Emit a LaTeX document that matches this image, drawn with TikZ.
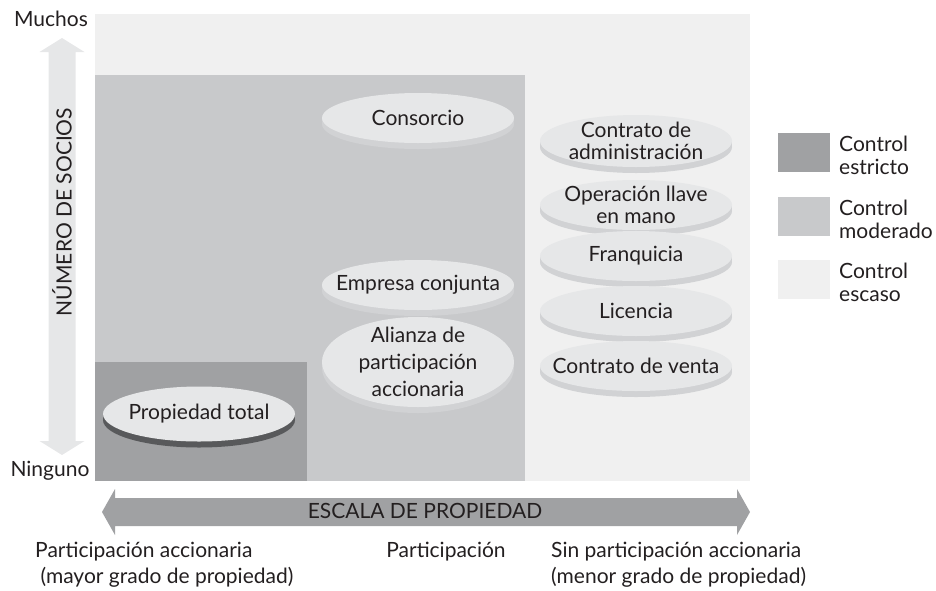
\documentclass[tikz,border=0pt]{standalone}
\usepackage{fontspec}
\setmainfont{Lato}
\usetikzlibrary{shapes.geometric}
\definecolor{darkc}{HTML}{A0A1A3}
\definecolor{midc}{HTML}{C8C9CB}
\definecolor{lightc}{HTML}{F0F0F0}
\definecolor{facec}{HTML}{E6E7E8}
\definecolor{sidec}{HTML}{D1D2D4}
\definecolor{sidedarkc}{HTML}{58595B}
\definecolor{inkc}{HTML}{231F20}
\definecolor{harrowc}{HTML}{A0A1A3}
\definecolor{varrowc}{HTML}{E6E7E8}
% \mydisc[node options]{name}{x}{y}{half height}{side colour}{text}
\newcommand{\mydisc}[7][]{%
  \fill[#6] (#3,#4+6) ellipse (96 and #5);
  \fill[#6] (#3-96,#4) rectangle (#3+96,#4+6);
  \fill[facec] (#3,#4) ellipse (96 and #5);
  \node[disctext,#1] (#2) at (#3,#4) {#7};}
\begin{document}
\begin{tikzpicture}[x=1pt,y=-1pt,
  every node/.style={text=inkc, font=\fontsize{21}{22}\selectfont},
  disctext/.style={align=center, inner sep=0pt},
  legbox/.style={minimum width=52pt, minimum height=39pt, inner sep=0pt},
  legtext/.style={anchor=west, align=left, inner sep=0pt, font=\fontsize{21}{23}\selectfont},
  lbl/.style={align=center, inner sep=0pt},
  botlbl/.style={align=left, inner sep=0pt, anchor=west, font=\fontsize{21}{26}\selectfont}]
\useasboundingbox (0,0) rectangle (936,590);
% control regions
\fill[lightc] (95,14) rectangle (750,481);
\fill[midc] (95,75) rectangle (525,481);
\fill[darkc] (95,362) rectangle (307,481);
% vertical arrow
\fill[varrowc] (62,38) -- (84.5,52) -- (75.5,52) -- (75.5,441) -- (84.5,441)
  -- (62,455) -- (39.5,441) -- (48.5,441) -- (48.5,52) -- (39.5,52) -- cycle;
\node[lbl, rotate=90] (socios) at (62,212) {NÚMERO DE SOCIOS};
\node[lbl] (muchos) at (51,19) {Muchos};
\node[lbl] (ninguno) at (50,471) {Ninguno};
% horizontal arrow
\fill[harrowc] (102,512) -- (115,489) -- (115,498) -- (737,498) -- (737,489)
  -- (750,512) -- (737,535) -- (737,526) -- (115,526) -- (115,535) -- cycle;
\node[lbl] (escala) at (425,511) {ESCALA DE PROPIEDAD};
% discs
\mydisc{prop}{199}{414}{27.5}{sidedarkc}{Propiedad total}
\mydisc{cons}{418}{118}{25}{sidec}{Consorcio}
\mydisc{emp}{418}{285}{25}{sidec}{Empresa conjunta}
\mydisc[font=\fontsize{21}{27}\selectfont]{ali}{418}{362}{45}{sidec}{Alianza de\\participación\\accionaria}
\mydisc{admin}{636}{141}{26}{sidec}{Contrato de\\administración}
\mydisc{llave}{636}{205}{25}{sidec}{Operación llave\\en mano}
\mydisc{fran}{636}{256}{25}{sidec}{Franquicia}
\mydisc{lic}{636}{311}{25}{sidec}{Licencia}
\mydisc{venta}{636}{366}{25}{sidec}{Contrato de venta}
% legend
\node[legbox, fill=darkc] (l1) at (804,152.5) {};
\node[legbox, fill=midc] (l2) at (804,216) {};
\node[legbox, fill=lightc] (l3) at (804,279) {};
\node[legtext] (t1) at (839,155) {Control\\estricto};
\node[legtext] (t2) at (839,219) {Control\\moderado};
\node[legtext] (t3) at (839,282) {Control\\escaso};
% bottom labels
\node[botlbl] (b1) at (35,565) {Participación accionaria\\\ (mayor grado de propiedad)};
\node[lbl] (b2) at (446,552) {Participación};
\node[botlbl] (b3) at (551,565) {Sin participación accionaria\\(menor grado de propiedad)};
\end{tikzpicture}
\end{document}
